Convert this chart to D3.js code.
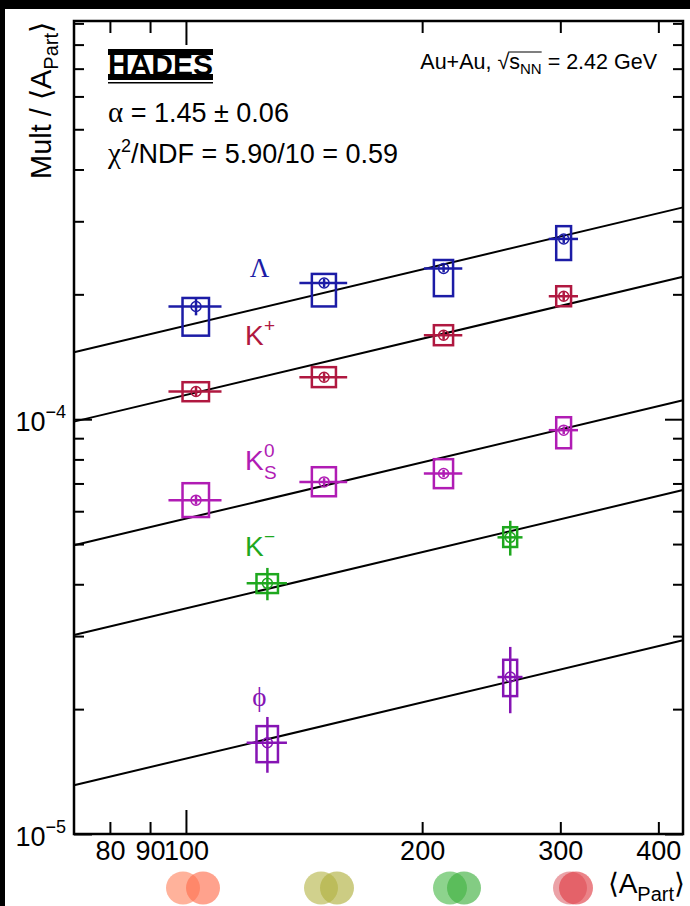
<!DOCTYPE html>
<html>
<head>
<meta charset="utf-8">
<script src="https://cdn.jsdelivr.net/npm/d3@7"></script>
<style>
  html, body { margin: 0; padding: 0; background: #000; }
  svg { display: block; }
  text { white-space: pre; }
</style>
</head>
<body>
<svg id="chart" width="690" height="906"></svg>
<script>
// <A_part> of the four centrality classes (Lambda, K+, K0s)
const aPart = [103, 150, 213, 303];
const aPartErr = [8, 10.5, 12, 13];
const aPartSys = [4, 5.3, 6, 6.6];
// K- and phi: two wider classes
const aPartWide = [127, 259];
const aPartWideErr = [7.5, 9.5];
const aPartWideSys = [4, 5.3];

const lambdaMult = [1.87e-4, 2.13e-4, 2.31e-4, 2.72e-4];
const lambdaStat = [0.09e-4, 0.05e-4, 0.05e-4, 0.06e-4];
const lambdaSysLo = [1.59e-4, 1.87e-4, 1.98e-4, 2.42e-4];
const lambdaSysHi = [1.96e-4, 2.24e-4, 2.42e-4, 2.92e-4];

const kplusMult = [1.166e-4, 1.262e-4, 1.594e-4, 1.979e-4];
const kplusStat = [0.03e-4, 0.03e-4, 0.04e-4, 0.05e-4];
const kplusSysLo = [1.105e-4, 1.195e-4, 1.508e-4, 1.872e-4];
const kplusSysHi = [1.228e-4, 1.335e-4, 1.685e-4, 2.092e-4];

const k0sMult = [6.38e-5, 7.06e-5, 7.40e-5, 9.41e-5];
const k0sStat = [0.15e-5, 0.15e-5, 0.15e-5, 0.2e-5];
const k0sSysLo = [5.81e-5, 6.52e-5, 6.82e-5, 8.51e-5];
const k0sSysHi = [7.01e-5, 7.66e-5, 8.01e-5, 10.11e-5];

const kminusMult = [4.02e-5, 5.19e-5];
const kminusStat = [0.36e-5, 0.5e-5];
const kminusSysLo = [3.81e-5, 4.92e-5];
const kminusSysHi = [4.23e-5, 5.49e-5];

const phiMult = [1.66e-5, 2.39e-5];
const phiStat = [0.255e-5, 0.435e-5];
const phiSysLo = [1.49e-5, 2.15e-5];
const phiSysHi = [1.82e-5, 2.63e-5];

// common power-law fit Mult/<A_part> = C * <A_part>^(alpha-1), C given at <A_part> = 100
const alpha = 1.45;
const fitAt100 = [1.681e-4, 1.144e-4, 5.76e-5, 3.50e-5, 1.52e-5];

const xTicks = [80, 90, 100, 200, 300, 400];
const yTicks = [1e-5, 2e-5, 3e-5, 4e-5, 5e-5, 6e-5, 7e-5, 8e-5, 9e-5,
                1e-4, 2e-4, 3e-4, 4e-4, 5e-4, 6e-4, 7e-4, 8e-4, 9e-4];
const yDecades = [1e-5, 1e-4];

const font = "'Liberation Sans', Arial, sans-serif";
const serif = "'Liberation Serif', 'Times New Roman', serif";

function rows(a, aErr, aSys, m, st, lo, hi) {
    return a.map(function (d, i) {
        return { a: d, aErr: aErr[i], aSys: aSys[i], m: m[i], stat: st[i], lo: lo[i], hi: hi[i] };
    });
}

const series = [
    { name: "Lambda", color: "#1c1ca6", pts: rows(aPart, aPartErr, aPartSys, lambdaMult, lambdaStat, lambdaSysLo, lambdaSysHi) },
    { name: "K+", color: "#b01840", pts: rows(aPart, aPartErr, aPartSys, kplusMult, kplusStat, kplusSysLo, kplusSysHi) },
    { name: "K0S", color: "#b01cb4", pts: rows(aPart, aPartErr, aPartSys, k0sMult, k0sStat, k0sSysLo, k0sSysHi) },
    { name: "K-", color: "#1ea81e", pts: rows(aPartWide, aPartWideErr, aPartWideSys, kminusMult, kminusStat, kminusSysLo, kminusSysHi) },
    { name: "phi", color: "#8614b4", pts: rows(aPartWide, aPartWideErr, aPartWideSys, phiMult, phiStat, phiSysLo, phiSysHi) }
];
series.forEach(function (s, i) { s.fit = fitAt100[i]; });

var plotL = 74, plotR = 683, plotT = 21, plotB = 834;
var svg = d3.select("#chart");

svg.append("rect").attr("x", 5).attr("y", 9).attr("width", 685).attr("height", 897).attr("fill", "#fff");

var x = d3.scaleLog().domain([72, 430]).range([plotL, plotR]);
var y = d3.scaleLog().domain([1e-5, 9.12e-4]).range([plotB, plotT]);

// ---- axes ----
function styleTicks(g) {
    g.select(".domain").remove();
    g.selectAll(".tick line").attr("stroke", "#000").attr("stroke-width", 2);
    g.attr("font-family", font).attr("font-size", 27);
    g.selectAll(".tick text").attr("fill", "#000");
}
var xLen = function (d) { return d == 100 ? 24 : 12; };
var yLen = function (d) { return yDecades.indexOf(d) >= 0 ? 18 : 10; };

svg.append("g").attr("transform", `translate(0,${plotB})`)
    .call(d3.axisBottom(x).tickValues(xTicks).tickFormat(d3.format("d")).tickSize(-12).tickPadding(7))
    .call(styleTicks)
    .call(g => g.selectAll(".tick line").attr("y2", d => -xLen(d)));
svg.append("g").attr("transform", `translate(0,${plotT})`)
    .call(d3.axisTop(x).tickValues(xTicks).tickFormat("").tickSize(-12))
    .call(styleTicks)
    .call(g => g.selectAll(".tick line").attr("y2", d => xLen(d)));

svg.append("g").attr("transform", `translate(${plotL},0)`)
    .call(d3.axisLeft(y).tickValues(yTicks).tickFormat("").tickSize(-10).tickPadding(8))
    .call(styleTicks)
    .call(g => g.selectAll(".tick line").attr("x2", d => yLen(d)));
svg.append("g").attr("transform", `translate(${plotR},0)`)
    .call(d3.axisRight(y).tickValues(yTicks).tickFormat("").tickSize(-10))
    .call(styleTicks)
    .call(g => g.selectAll(".tick line").attr("x2", d => -yLen(d)));

// decade labels 10^-n
var decLab = svg.append("g").attr("font-family", font).attr("fill", "#000");
yDecades.forEach(function (d) {
    var t = decLab.append("text").attr("x", plotL - 8).attr("y", y(d) + 12)
        .attr("text-anchor", "end").attr("font-size", 27);
    t.append("tspan").text("10");
    t.append("tspan").attr("font-size", 18).attr("dy", -13).text("\u2212" + Math.round(-Math.log10(d)));
});

svg.append("rect").attr("x", plotL).attr("y", plotT).attr("width", plotR - plotL).attr("height", plotB - plotT)
    .attr("fill", "none").attr("stroke", "#000").attr("stroke-width", 2.5);

// ---- fit lines ----
var line = d3.line().x(d => x(d.a)).y(d => y(d.v));
series.forEach(function (s) {
    var pts = x.domain().map(a => ({ a: a, v: s.fit * Math.pow(a / 100, alpha - 1) }));
    svg.append("path").attr("d", line(pts)).attr("fill", "none").attr("stroke", "#000").attr("stroke-width", 2);
});

// ---- data ----
var groups = svg.selectAll("g.series").data(series).enter().append("g").attr("class", "series")
    .attr("stroke", d => d.color).attr("fill", "none");
groups.each(function (s) {
    var g = d3.select(this);
    var p = g.selectAll("g").data(s.pts).enter().append("g");
    p.append("rect")
        .attr("x", d => x(d.a - d.aSys)).attr("width", d => x(d.a + d.aSys) - x(d.a - d.aSys))
        .attr("y", d => y(d.hi)).attr("height", d => y(d.lo) - y(d.hi))
        .attr("stroke-width", 2.5);
    p.append("line")
        .attr("x1", d => x(d.a - d.aErr)).attr("x2", d => x(d.a + d.aErr))
        .attr("y1", d => y(d.m)).attr("y2", d => y(d.m)).attr("stroke-width", 2.5);
    p.append("line")
        .attr("x1", d => x(d.a)).attr("x2", d => x(d.a))
        .attr("y1", d => y(d.m - d.stat)).attr("y2", d => y(d.m + d.stat)).attr("stroke-width", 2.5);
    p.append("circle").attr("cx", d => x(d.a)).attr("cy", d => y(d.m)).attr("r", 5)
        .attr("stroke-width", 1.5);
});

// ---- species labels ----
var lab = svg.append("g").attr("font-family", font);
function greek(txt, a, v, col, size) {
    lab.append("text").attr("x", x(a)).attr("y", y(v)).attr("fill", col)
        .attr("font-family", serif).attr("font-size", size).text(txt);
}
greek("\u039B", 120.6, 2.2e-4, series[0].color, 27);
greek("\u03D5", 121.5, 2.03e-5, series[4].color, 27);
function kaon(a, v, col, sup, sub) {
    var x0 = x(a), y0 = y(v);
    lab.append("text").attr("x", x0).attr("y", y0).attr("fill", col).attr("font-size", 28).text("K");
    if (sup) lab.append("text").attr("x", x0 + 19).attr("y", y0 - 13).attr("fill", col).attr("font-size", 19).text(sup);
    if (sub) lab.append("text").attr("x", x0 + 19).attr("y", y0 + 9).attr("fill", col).attr("font-size", 19).text(sub);
}
kaon(118.9, 1.507e-4, series[1].color, "+");
kaon(118.9, 7.54e-5, series[2].color, "0", "S");
kaon(118.9, 4.68e-5, series[3].color, "\u2212");

// ---- header texts ----
var hd = svg.append("g").attr("font-family", font).attr("fill", "#000");
var alphaTxt = hd.append("text").attr("x", 108).attr("y", 122).attr("font-size", 27);
alphaTxt.append("tspan").attr("font-family", serif).attr("font-size", 29).text("\u03B1");
alphaTxt.append("tspan").text(" = 1.45 \u00B1 0.06");
var chiTxt = hd.append("text").attr("x", 108).attr("y", 163).attr("font-size", 27);
chiTxt.append("tspan").attr("font-family", serif).attr("font-size", 29).text("\u03C7");
chiTxt.append("tspan").attr("font-size", 18).attr("dy", -11).text("2");
chiTxt.append("tspan").attr("dy", 11).text("/NDF = 5.90/10 = 0.59");

// collision system, right aligned
var sys = hd.append("g");
var sx = 0;
function piece(txt, size, dy) {
    var t = sys.append("text").attr("x", sx).attr("y", dy).attr("font-size", size).text(txt);
    var w = t.node().getComputedTextLength();
    var x0 = sx; sx += w; return [x0, sx];
}
piece("Au+Au, ", 21.5, 0);
var rt = piece("\u221A", 21.5, 0);
var s1 = piece("s", 21.5, 0);
var s2 = piece("NN", 15, 5);
piece(" = 2.42 GeV", 21.5, 0);
sys.append("line").attr("x1", rt[1] - 1).attr("x2", s2[1]).attr("y1", -17).attr("y2", -17)
    .attr("stroke", "#000").attr("stroke-width", 1.2);
sys.attr("transform", `translate(${657 - sx},69)`);

// HADES logo
var logo = svg.append("g").attr("transform", "translate(108,49)");
logo.append("rect").attr("width", 105).attr("height", 6).attr("fill", "#000");
logo.append("text").attr("x", 0).attr("y", 26).attr("font-family", font).attr("font-weight", 900)
    .attr("font-size", 29).attr("textLength", 105).attr("lengthAdjust", "spacingAndGlyphs").text("HADES");
logo.append("rect").attr("y", 25).attr("width", 105).attr("height", 6).attr("fill", "#000");
logo.append("rect").attr("y", 33).attr("width", 105).attr("height", 1.5).attr("fill", "#000");

// axis titles
var yt = svg.append("text").attr("transform", `translate(51,${plotT + 1}) rotate(-90)`)
    .attr("text-anchor", "end").attr("font-family", font).attr("font-size", 29).attr("fill", "#000");
yt.append("tspan").text("Mult / \u27E8A");
yt.append("tspan").attr("font-size", 20).attr("dy", 7).text("Part");
yt.append("tspan").attr("dy", -7).text("\u27E9");

var xt = svg.append("text").attr("x", 685).attr("y", 893)
    .attr("text-anchor", "end").attr("font-family", font).attr("font-size", 28).attr("fill", "#000");
xt.append("tspan").text("\u27E8A");
xt.append("tspan").attr("font-size", 20).attr("dy", 8).text("Part");
xt.append("tspan").attr("dy", -8).text("\u27E9");

// slide decoration: overlapping discs under the axis
const decoDiscs = [
    { cx: [183, 203], fill: ["#ff8866", "#ff7050"] },
    { cx: [321, 337], fill: ["#b8b850", "#b0b040"] },
    { cx: [450, 464], fill: ["#50bb50", "#40b040"] },
    { cx: [570, 576], fill: ["#e07078", "#e04048"] }
];
var deco = svg.append("g");
decoDiscs.forEach(function (d) {
    d.cx.forEach(function (c, i) {
        deco.append("ellipse").attr("cx", c).attr("cy", 888).attr("rx", 17).attr("ry", 16.5)
            .attr("fill", d.fill[i]).attr("fill-opacity", 0.65);
    });
});
</script>
</body>
</html>
